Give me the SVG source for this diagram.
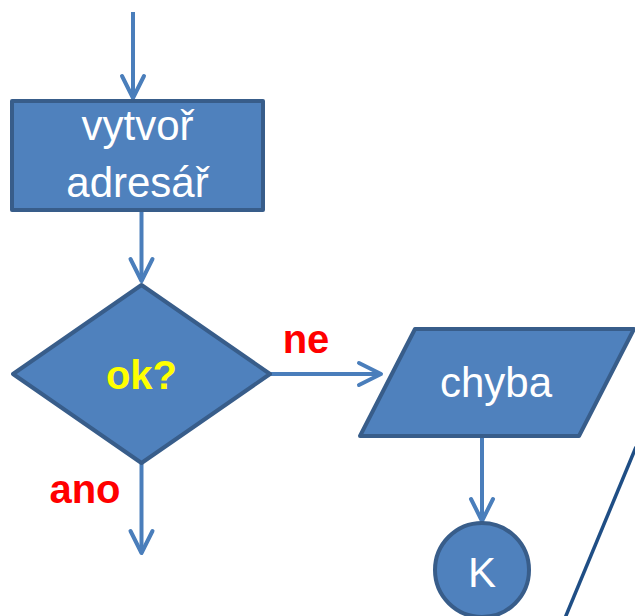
<svg xmlns="http://www.w3.org/2000/svg" width="635" height="616" viewBox="0 0 635 616">
  <style>
    .shape { fill: #4f81bd; stroke: #385d8a; stroke-width: 4; stroke-linejoin: round; }
    .lbl { font-family: "Liberation Sans", Arial, sans-serif; font-size: 42px; fill: #ffffff; text-anchor: middle; }
    .cond { font-family: "Liberation Sans", Arial, sans-serif; font-size: 40px; font-weight: bold; }
    .conn { stroke: #4a7ebb; stroke-width: 4; fill: none; marker-end: url(#chev); }
  </style>
  <defs>
    <marker id="chev" markerUnits="userSpaceOnUse" viewBox="-26 -15 30 30" refX="0" refY="0" markerWidth="30" markerHeight="30" orient="auto">
      <path d="M -22,-11 L 0,0 L -22,11" fill="none" stroke="#4a7ebb" stroke-width="4" stroke-linecap="round" stroke-linejoin="round"/>
    </marker>
  </defs>
  <rect width="635" height="616" fill="#ffffff"/>
  <g id="connectors">
    <line class="conn" x1="133" y1="12" x2="133" y2="98"/>
    <line class="conn" x1="141.5" y1="211" x2="141.5" y2="281"/>
    <line class="conn" x1="270" y1="374" x2="381" y2="374"/>
    <line class="conn" x1="141.5" y1="464" x2="141.5" y2="553"/>
    <line class="conn" x1="482" y1="437" x2="482" y2="521"/>
  </g>
  <g id="node-vytvor">
    <rect class="shape" x="12" y="101" width="251" height="109"/>
    <text class="lbl" x="137.5" y="140">vytvoř</text>
    <text class="lbl" x="137.5" y="197">adresář</text>
  </g>
  <g id="node-ok">
    <polygon class="shape" points="141.5,285 270,374 141.5,463 13,374"/>
    <text class="cond" x="141.5" y="389" fill="#ffff00" text-anchor="middle">ok?</text>
  </g>
  <g id="node-chyba">
    <polygon class="shape" points="415,329 634,329 579,436 360,436"/>
    <text class="lbl" x="496" y="397">chyba</text>
  </g>
  <g id="node-k">
    <circle class="shape" cx="482" cy="570" r="47"/>
    <text class="lbl" x="482" y="587">K</text>
  </g>
  <g id="labels">
    <text class="cond" x="306" y="353" fill="#ff0000" text-anchor="middle">ne</text>
    <text class="cond" x="85" y="503" fill="#ff0000" text-anchor="middle">ano</text>
  </g>
  <line x1="636" y1="447" x2="565" y2="618" stroke="#1f4e85" stroke-width="3.5"/>
</svg>
